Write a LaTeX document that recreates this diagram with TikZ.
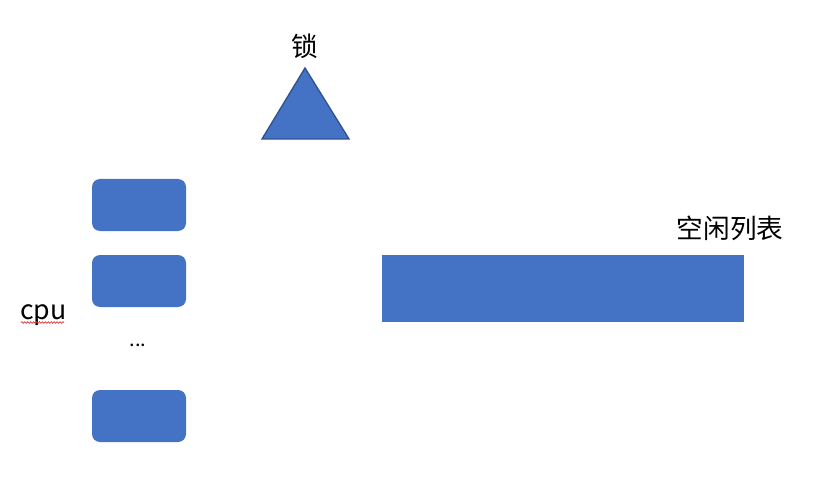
\documentclass[tikz,border=0pt]{standalone}
\usepackage{fontspec}
\setmainfont{Noto Sans CJK SC}
\definecolor{OfficeBlue}{HTML}{4472C4}
\definecolor{OfficeEdge}{HTML}{2F528F}
\definecolor{SpellRed}{HTML}{E03030}
\usetikzlibrary{decorations.pathmorphing, positioning}

\begin{document}
\begin{tikzpicture}[x=0.75pt, y=-0.75pt,
   cpubox/.style={fill=OfficeBlue, draw=none, rounded corners=6pt,
      minimum width=70.5pt, minimum height=39pt, inner sep=0pt},
   label/.style={font=\fontsize{20}{24}\selectfont, inner sep=0pt}]
            % Canvas
            \useasboundingbox (0,0) rectangle (834,477);
            % CPU cores
            \node[cpubox] (cpuA) at (139,205) {};
            \node[cpubox] (cpuB) at (139,281) {};
            \node[cpubox] (cpuN) at (139,416) {};
            \node[inner sep=0pt, anchor=base, font=\fontsize{15}{18}\selectfont] (cpuDots) at (138,346) {...};
            \node[label, anchor=base west] (cpuLabel) at (20,319) {cpu};
            % spell-check underline
            \draw[SpellRed, line width=0.5pt,
               decorate, decoration={snake, amplitude=0.6pt, segment length=2.2pt}]
               (cpuLabel.base west) ++(1,3.5) -- ++(43,0);
            % Lock
            \filldraw[fill=OfficeBlue, draw=OfficeEdge, line width=1pt]
               (305,68) -- (349,139) -- (262,139) -- cycle;
            \node[label] (lockLabel) at (305,46) {锁};
            % Free list
            \node[fill=OfficeBlue, minimum width=271.5pt, minimum height=50.25pt,
               inner sep=0pt] (freeList) at (563,288.5) {};
            \node[label] (freeLabel) at (730,228) {空闲列表};
\end{tikzpicture}
\end{document}
